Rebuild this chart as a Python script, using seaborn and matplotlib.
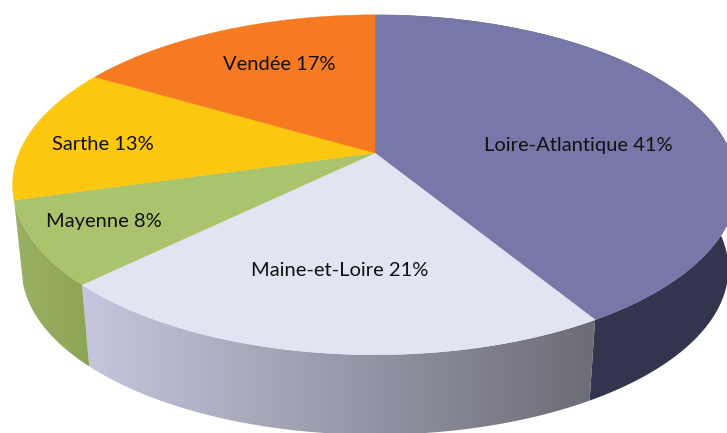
import numpy as np
import matplotlib
matplotlib.use('Agg')
import matplotlib.pyplot as plt
from matplotlib.patches import Polygon
import seaborn as sns

# Data
labels = ['Loire-Atlantique', 'Maine-et-Loire', 'Mayenne', 'Sarthe', 'Vendée']
shares = [41, 21, 8, 13, 17]
top_colors = ['#7778a8', '#e3e4f2', '#a9c46c', '#fcc80f', '#f67a22']
side_colors = [('#33354f', '#33354f'), ('#c6c7df', '#6c6c76'), ('#9ab062', '#8ea558')]
label_pos = [(578, 146), (340, 270), (104, 222), (103, 144), (279, 65)]

# Projection of the pie disc (pixels of the picture)
CX, CY = 375, 153
RX, RY = 356, 164
TILT = 0.187
LOWER_CY = 238
LOWER_SCALE = 0.975
# the original's 3D view bends the slice edges a little (degrees)
EDGE_NUDGE = [0, 1.1, 2.5, 2.2, 1.7, 0]

sns.set_theme(style='white')
plt.rcParams['font.family'] = ['Lato', 'DejaVu Sans']


def project(angles, lower=False):
    # angles in degrees, clockwise from the top of the pie
    a = np.radians(angles)
    u, v = np.sin(a), np.cos(a)
    w = 1 + TILT * v
    x, y = RX * u / w, -RY * v / w
    if lower:
        return np.column_stack([CX + LOWER_SCALE * x, LOWER_CY + LOWER_SCALE * y])
    return np.column_stack([CX + x, CY + y])


fig = plt.figure(figsize=(7.27, 4.33), dpi=100)
ax = fig.add_axes([0, 0, 1, 1])

edges = np.cumsum([0] + shares) * 360 / sum(shares) + np.array(EDGE_NUDGE)

# Sides of the front slices, with their left to right shading
for i, (left, right) in enumerate(side_colors):
    arc = np.linspace(edges[i], edges[i + 1], 120)
    pts = np.vstack([project(arc), project(arc[::-1], lower=True)])
    patch = Polygon(pts, closed=True, facecolor='none', edgecolor='none')
    ax.add_patch(patch)
    cmap = sns.blend_palette([left, right], as_cmap=True)
    img = ax.imshow(np.linspace(0, 1, 256).reshape(1, -1), cmap=cmap, aspect='auto', zorder=1,
                    extent=[pts[:, 0].min(), pts[:, 0].max(), pts[:, 1].max(), pts[:, 1].min()])
    img.set_clip_path(patch)

# Top of the pie
for i, color in enumerate(top_colors):
    arc = np.linspace(edges[i], edges[i + 1], 120)
    pts = np.vstack([[[CX, CY]], project(arc)])
    ax.add_patch(Polygon(pts, closed=True, facecolor=color, edgecolor=color, linewidth=0.3, zorder=2))

for name, share, (x, y) in zip(labels, shares, label_pos):
    ax.text(x, y, f'{name} {share}%', ha='center', va='center', fontsize=14.5, color='#111111', zorder=3)

ax.set_xlim(0, 727)
ax.set_ylim(433, 0)
ax.axis('off')
fig.savefig('out.png', dpi=100, facecolor='white')
